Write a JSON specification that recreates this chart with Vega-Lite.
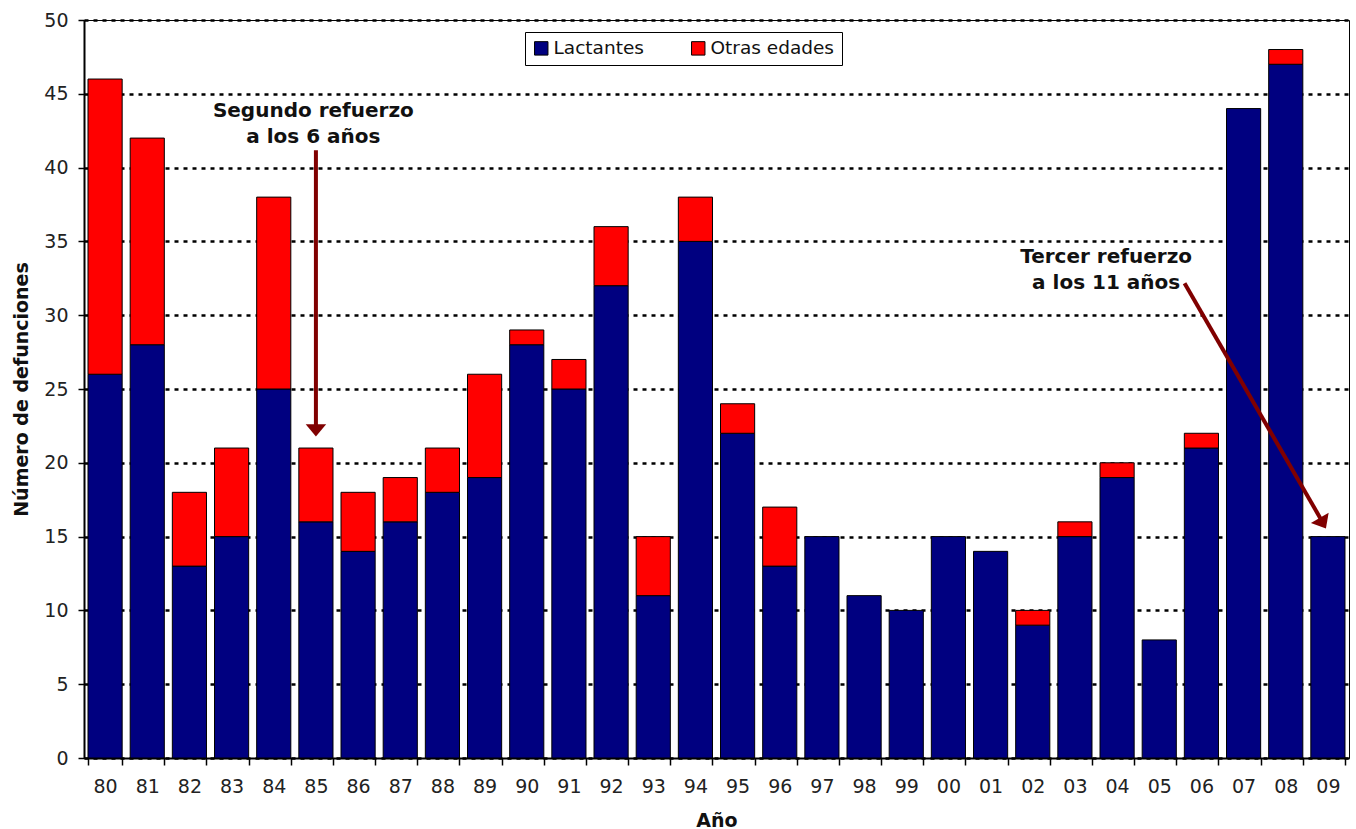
{
  "$schema": "https://vega.github.io/schema/vega-lite/v6.json",
  "autosize": "none",
  "width": 1265,
  "height": 738,
  "padding": {"left": 84, "top": 20, "right": 7, "bottom": 71},
  "background": "white",
  "config": {
    "font": "DejaVu Sans",
    "view": {"stroke": "#000", "strokeWidth": 1},
    "axis": {
      "labelFont": "DejaVu Sans",
      "titleFont": "DejaVu Sans",
      "labelColor": "#222",
      "titleColor": "#111",
      "domainColor": "#000",
      "domainWidth": 2,
      "tickColor": "#000",
      "tickWidth": 1.5
    }
  },
  "datasets": {
    "defunciones": [
      {"anio": "80", "grupo": "Lactantes", "n": 26}, {"anio": "80", "grupo": "Otras edades", "n": 20},
      {"anio": "81", "grupo": "Lactantes", "n": 28}, {"anio": "81", "grupo": "Otras edades", "n": 14},
      {"anio": "82", "grupo": "Lactantes", "n": 13}, {"anio": "82", "grupo": "Otras edades", "n": 5},
      {"anio": "83", "grupo": "Lactantes", "n": 15}, {"anio": "83", "grupo": "Otras edades", "n": 6},
      {"anio": "84", "grupo": "Lactantes", "n": 25}, {"anio": "84", "grupo": "Otras edades", "n": 13},
      {"anio": "85", "grupo": "Lactantes", "n": 16}, {"anio": "85", "grupo": "Otras edades", "n": 5},
      {"anio": "86", "grupo": "Lactantes", "n": 14}, {"anio": "86", "grupo": "Otras edades", "n": 4},
      {"anio": "87", "grupo": "Lactantes", "n": 16}, {"anio": "87", "grupo": "Otras edades", "n": 3},
      {"anio": "88", "grupo": "Lactantes", "n": 18}, {"anio": "88", "grupo": "Otras edades", "n": 3},
      {"anio": "89", "grupo": "Lactantes", "n": 19}, {"anio": "89", "grupo": "Otras edades", "n": 7},
      {"anio": "90", "grupo": "Lactantes", "n": 28}, {"anio": "90", "grupo": "Otras edades", "n": 1},
      {"anio": "91", "grupo": "Lactantes", "n": 25}, {"anio": "91", "grupo": "Otras edades", "n": 2},
      {"anio": "92", "grupo": "Lactantes", "n": 32}, {"anio": "92", "grupo": "Otras edades", "n": 4},
      {"anio": "93", "grupo": "Lactantes", "n": 11}, {"anio": "93", "grupo": "Otras edades", "n": 4},
      {"anio": "94", "grupo": "Lactantes", "n": 35}, {"anio": "94", "grupo": "Otras edades", "n": 3},
      {"anio": "95", "grupo": "Lactantes", "n": 22}, {"anio": "95", "grupo": "Otras edades", "n": 2},
      {"anio": "96", "grupo": "Lactantes", "n": 13}, {"anio": "96", "grupo": "Otras edades", "n": 4},
      {"anio": "97", "grupo": "Lactantes", "n": 15},
      {"anio": "98", "grupo": "Lactantes", "n": 11},
      {"anio": "99", "grupo": "Lactantes", "n": 10},
      {"anio": "00", "grupo": "Lactantes", "n": 15},
      {"anio": "01", "grupo": "Lactantes", "n": 14},
      {"anio": "02", "grupo": "Lactantes", "n": 9}, {"anio": "02", "grupo": "Otras edades", "n": 1},
      {"anio": "03", "grupo": "Lactantes", "n": 15}, {"anio": "03", "grupo": "Otras edades", "n": 1},
      {"anio": "04", "grupo": "Lactantes", "n": 19}, {"anio": "04", "grupo": "Otras edades", "n": 1},
      {"anio": "05", "grupo": "Lactantes", "n": 8},
      {"anio": "06", "grupo": "Lactantes", "n": 21}, {"anio": "06", "grupo": "Otras edades", "n": 1},
      {"anio": "07", "grupo": "Lactantes", "n": 44},
      {"anio": "08", "grupo": "Lactantes", "n": 47}, {"anio": "08", "grupo": "Otras edades", "n": 1},
      {"anio": "09", "grupo": "Lactantes", "n": 15}
    ],
    "flechas": [
      {"x": 5.5, "y": 41.17, "x2": 5.5, "y2": 22.4},
      {"x": 26.1, "y": 32.16, "x2": 29.33, "y2": 16.2}
    ],
    "puntas": [
      {"x": 5.5, "y": 22.2, "giro": 0},
      {"x": 29.38, "y": 15.91, "giro": -30}
    ],
    "notas": [
      {"x": 5.44, "y": 43.4, "texto": "Segundo refuerzo"},
      {"x": 5.44, "y": 41.64, "texto": "a los 6 años"},
      {"x": 24.24, "y": 33.52, "texto": "Tercer refuerzo"},
      {"x": 24.24, "y": 31.75, "texto": "a los 11 años"}
    ]
  },
  "resolve": {"scale": {"x": "independent"}, "axis": {"x": "independent"}},
  "layer": [
    {
      "data": {"name": "defunciones"},
      "mark": {"type": "bar", "stroke": "#000", "strokeWidth": 1},
      "encoding": {
        "x": {
          "field": "anio",
          "type": "nominal",
          "sort": null,
          "scale": {"paddingInner": 0.19, "paddingOuter": 0.095},
          "axis": {
            "title": "Año",
            "titleFontSize": 19,
            "titleFontWeight": "bold",
            "titlePadding": 15,
            "labelFontSize": 19,
            "labelAngle": 0,
            "labelPadding": 12,
            "tickSize": 7,
            "tickBand": "extent",
            "grid": false
          }
        },
        "y": {
          "field": "n",
          "type": "quantitative",
          "stack": "zero",
          "scale": {"domain": [0, 50], "nice": false},
          "axis": {
            "title": "Número de defunciones",
            "titleFontSize": 19,
            "titleFontWeight": "bold",
            "titlePadding": 12,
            "labelFontSize": 19,
            "labelPadding": 10,
            "tickSize": 6,
            "values": [0, 5, 10, 15, 20, 25, 30, 35, 40, 45, 50],
            "grid": true,
            "gridColor": "#000",
            "gridWidth": 2.5,
            "gridDash": [4, 5],
            "gridOpacity": 1
          }
        },
        "color": {
          "field": "grupo",
          "type": "nominal",
          "scale": {"domain": ["Lactantes", "Otras edades"], "range": ["#000080", "#ff0000"]},
          "legend": {
            "title": null,
            "orient": "none",
            "direction": "horizontal",
            "legendX": 441,
            "legendY": 12,
            "strokeColor": "#000",
            "fillColor": "#fff",
            "padding": 7,
            "labelFontSize": 18.5,
            "labelColor": "#111",
            "labelOffset": 3,
            "columnPadding": 45,
            "symbolType": "square",
            "symbolSize": 180,
            "symbolStrokeColor": "#000",
            "symbolStrokeWidth": 1,
            "symbolOpacity": 1
          }
        },
        "order": {"field": "grupo", "sort": "ascending"}
      }
    },
    {
      "data": {"name": "flechas"},
      "mark": {"type": "rule", "color": "#800000", "strokeWidth": 4},
      "encoding": {
        "x": {"field": "x", "type": "quantitative", "scale": {"domain": [0, 30], "nice": false, "zero": false}, "axis": null},
        "x2": {"field": "x2"},
        "y": {"field": "y", "type": "quantitative"},
        "y2": {"field": "y2"}
      }
    },
    {
      "data": {"name": "puntas"},
      "mark": {"type": "point", "shape": "M-1,-0.6L1,-0.6L0,0.6Z", "filled": true, "color": "#800000", "size": 420, "opacity": 1},
      "encoding": {
        "x": {"field": "x", "type": "quantitative", "scale": {"domain": [0, 30], "nice": false, "zero": false}, "axis": null},
        "y": {"field": "y", "type": "quantitative"},
        "angle": {"field": "giro", "type": "quantitative", "scale": null}
      }
    },
    {
      "data": {"name": "notas"},
      "mark": {"type": "text", "font": "DejaVu Sans", "fontWeight": "bold", "fontSize": 20, "color": "#111", "align": "center", "baseline": "alphabetic"},
      "encoding": {
        "x": {"field": "x", "type": "quantitative", "scale": {"domain": [0, 30], "nice": false, "zero": false}, "axis": null},
        "y": {"field": "y", "type": "quantitative"},
        "text": {"field": "texto"}
      }
    }
  ]
}
